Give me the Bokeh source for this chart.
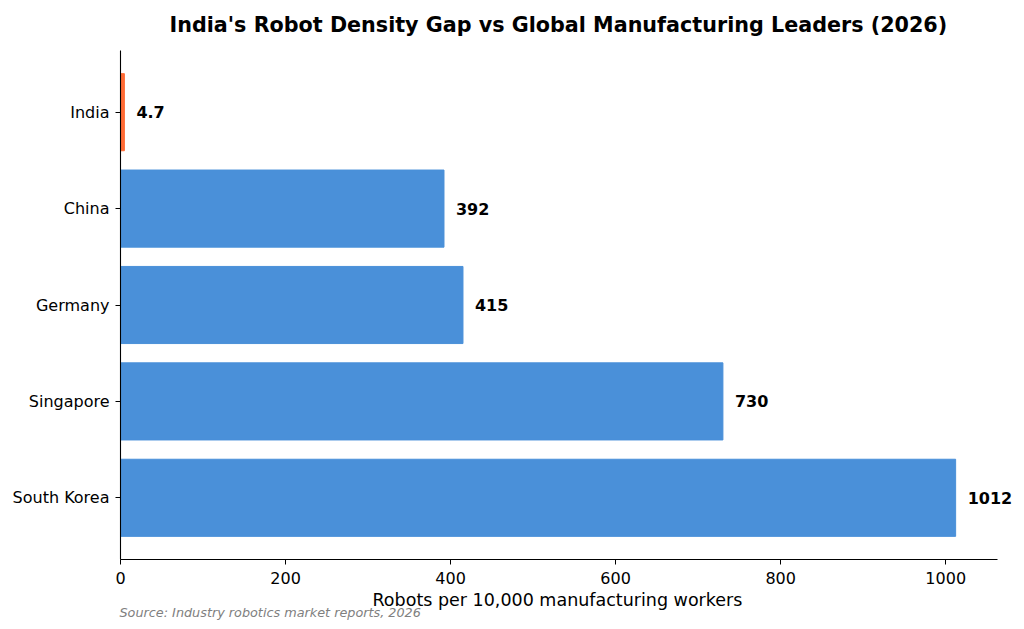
from bokeh.plotting import figure
from bokeh.models import Range1d, FixedTicker, Title
from bokeh.core.properties import value
from bokeh.embed import file_html
from bokeh.resources import INLINE

# data, bottom to top as drawn
countries = ["South Korea", "Singapore", "Germany", "China", "India"]
density = [1012, 730, 415, 392, 4.7]
bar_labels = ["1012", "730", "415", "392", "4.7"]
colors = ["#4A90D9", "#4A90D9", "#4A90D9", "#4A90D9", "#FF6B35"]
x_ticks = [0, 200, 400, 600, 800, 1000]

FONT = "DejaVu Sans"
pos = list(range(len(countries)))
x_axis_end = max(density) * 1.05
# frame runs a bit past the visible axis so the longest bar label is not clipped
x_frame_end = x_axis_end + 28
y_lo, y_hi = -0.64, len(countries) - 1 + 0.64

p = figure(width=1024, height=629, output_backend="svg", toolbar_location=None,
           x_range=Range1d(0, x_frame_end), y_range=Range1d(y_lo, y_hi),
           min_border_left=120, min_border_right=4, min_border_top=50,
           min_border_bottom=70)
p.outline_line_color = None
p.grid.visible = False
p.background_fill_color = "white"
p.border_fill_color = "white"

p.hbar(y=pos, right=density, left=0, height=0.8, color=colors)

p.text(x=density, y=pos, text=bar_labels, x_offset=12, text_baseline="middle",
       text_align="left", text_font_size="16px", text_font_style="bold",
       text_color="black", text_font=value(FONT))

for ax in (p.xaxis[0], p.yaxis[0]):
    ax.axis_line_color = "black"
    ax.axis_line_width = 1.1
    ax.major_tick_out = 5
    ax.major_tick_in = 0
    ax.minor_tick_out = 0
    ax.minor_tick_in = 0
    ax.major_label_text_font = FONT
    ax.major_label_text_font_size = "16px"
    ax.major_label_text_color = "black"
    ax.major_tick_line_color = "black"

p.xaxis.bounds = (0, x_axis_end)
p.xaxis.ticker = FixedTicker(ticks=x_ticks)
p.xaxis.major_label_standoff = 7

p.yaxis.ticker = FixedTicker(ticks=pos)
p.yaxis.major_label_overrides = {i: c for i, c in enumerate(countries)}
p.yaxis.major_label_standoff = 6

# x label as a title so it centres under the visible axis, not the wider frame
p.add_layout(Title(text="Robots per 10,000 manufacturing workers",
                   align="left", text_font=FONT, text_font_size="17.5px",
                   text_font_style="normal", text_color="black",
                   standoff=2, offset=252), "below")
p.add_layout(Title(text="Source: Industry robotics market reports, 2026",
                   align="left", text_font=FONT, text_font_size="12.8px",
                   text_font_style="italic", text_color="#808080",
                   standoff=-15, offset=-1), "below")
p.add_layout(Title(text="India's Robot Density Gap vs Global Manufacturing Leaders (2026)",
                   align="left", vertical_align="top", text_font=FONT,
                   text_font_size="20.7px", text_font_style="bold",
                   text_color="black", standoff=24, offset=49), "above")

open("out.html", "w").write(file_html(p, INLINE))
